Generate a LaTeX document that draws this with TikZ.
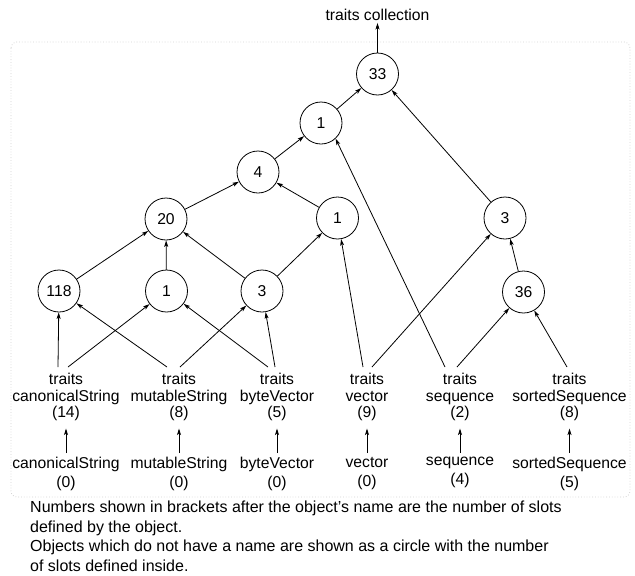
\documentclass[tikz,border=0pt]{standalone}
\usepackage{fontspec}
\setmainfont{Liberation Sans}
\usetikzlibrary{arrows.meta}
\begin{document}
\begin{tikzpicture}[x=1pt,y=-1pt,
  every node/.style={font=\fontsize{15.7}{16.5}\selectfont},
  obj/.style={draw, circle, minimum size=42pt, inner sep=0pt, line width=0.8pt},
  named/.style={align=center, inner sep=0pt, anchor=north},
  plain/.style={named, font=\fontsize{15.7}{19}\selectfont},
  link/.style={line width=0.8pt, -{Stealth[length=6.5pt,width=4pt,inset=1.5pt]}},
]
\useasboundingbox (0,0) rectangle (635,576);
% light dotted frame round the graph
\draw[gray!35, dotted, line width=0.8pt, rounded corners=6pt] (11,42) rectangle (630,497);

% unnamed objects
\node[inner sep=0pt] (top) at (377.5,15) {traits collection};
\node[obj] (c33)  at (377.5,74) {33};
\node[obj] (c1a)  at (321,123)  {1};
\node[obj] (c4)   at (258,172)  {4};
\node[obj] (c20)  at (166,219)  {20};
\node[obj] (c1b)  at (337.5,218) {1};
\node[obj] (c3a)  at (505,218)  {3};
\node[obj] (c118) at (59,291)   {118};
\node[obj] (c1c)  at (166.5,291) {1};
\node[obj] (c3b)  at (262,291)  {3};
\node[obj] (c36)  at (523.5,292) {36};

% traits objects
\node[named] (tcs) at (66,373)    {traits\\canonicalString\\(14)};
\node[named] (tms) at (179,373)   {traits\\mutableString\\(8)};
\node[named] (tbv) at (277,373)   {traits\\byteVector\\(5)};
\node[named] (tvc) at (367,373)   {traits\\vector\\(9)};
\node[named] (tsq) at (460,373)   {traits\\sequence\\(2)};
\node[named] (tss) at (569.5,373) {traits\\sortedSequence\\(8)};

% prototype objects
\node[plain] (ocs) at (66,457)    {canonicalString\\(0)};
\node[plain] (oms) at (179,457)   {mutableString\\(0)};
\node[plain] (obv) at (277,457)   {byteVector\\(0)};
\node[plain] (ovc) at (367,457)   {vector\\(0)};
\node[plain] (osq) at (460,457)   {sequence\\(4)};
\node[plain] (oss) at (569.5,457) {sortedSequence\\(5)};

% parent links between unnamed objects
\draw[link, shorten >=2pt] (c33) -- (top);
\draw[link] (c1a) -- (c33);
\draw[link] (c3a) -- (c33);
\draw[link] (c4) -- (c1a);
\draw[link] (c20) -- (c4);
\draw[link] (c1b) -- (c4);
\draw[link] (c118) -- (c20);
\draw[link] (c1c) -- (c20);
\draw[link] (c3b) -- (c20);
\draw[link] (c3b) -- (c1b);
\draw[link] (c36) -- (c3a);

% parent links from traits objects
\draw[link] ([xshift=-8pt,yshift=6pt]tcs.north) -- (c118);
\draw[link] ([xshift=2pt,yshift=6pt]tcs.north) -- (c1c);
\draw[link] ([xshift=-12pt,yshift=6pt]tms.north) -- (c118);
\draw[link] ([xshift=1pt,yshift=6pt]tms.north) -- (c3b);
\draw[link] ([xshift=-9pt,yshift=6pt]tbv.north) -- (c1c);
\draw[link] ([xshift=-2pt,yshift=6pt]tbv.north) -- (c3b);
\draw[link] ([xshift=-4pt,yshift=6pt]tvc.north) -- (c1b);
\draw[link] ([xshift=5pt,yshift=6pt]tvc.north) -- (c3a);
\draw[link] ([xshift=-15pt,yshift=6pt]tsq.north) -- (c1a.-47);
\draw[link] ([xshift=-3pt,yshift=6pt]tsq.north) -- (c36);
\draw[link] ([xshift=-2.5pt,yshift=6pt]tss.north) -- (c36);

% parent links from prototypes to their traits
\foreach \o/\t in {ocs/tcs, oms/tms, obv/tbv, ovc/tvc, osq/tsq, oss/tss}
  \draw[link] ([yshift=4pt]\o.north) -- ([yshift=-7.5pt]\t.south);

% key
\node[anchor=north west, align=left, inner sep=0pt,
      font=\fontsize{16}{19.5}\selectfont] (note) at (30,501)
  {Numbers shown in brackets after the object’s name are the number of slots\\
   defined by the object.\\
   Objects which do not have a name are shown as a circle with the number\\
   of slots defined inside.};
\end{tikzpicture}
\end{document}
